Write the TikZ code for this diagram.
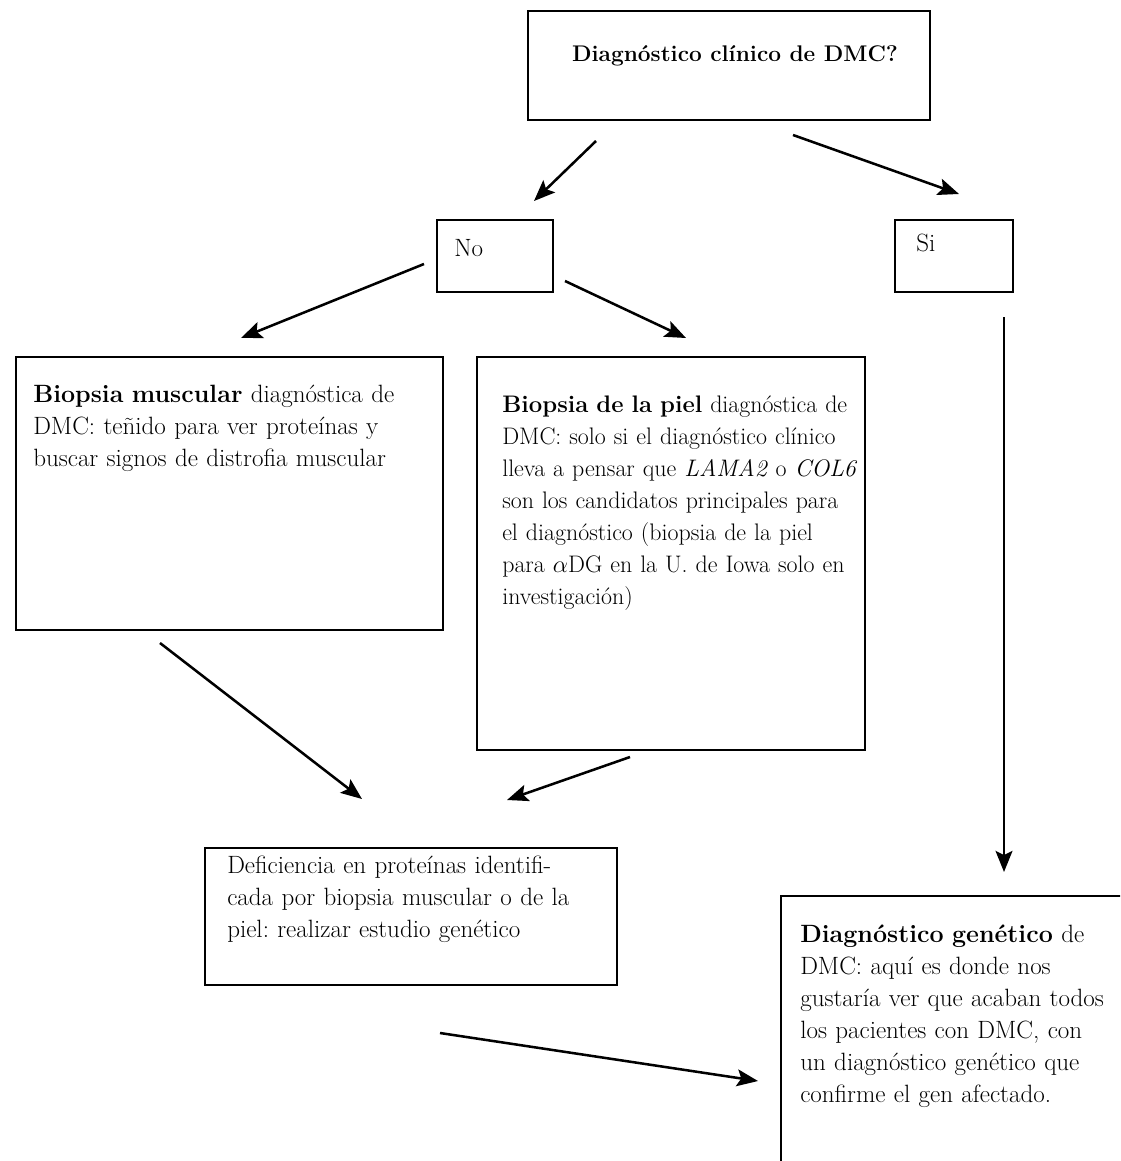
\documentclass[tikz,border=0pt]{standalone}
\usetikzlibrary{arrows.meta,fit}
\frenchspacing
\tikzset{
  box/.style={draw, line width=2.1pt, inner sep=0pt},
  txt/.style={anchor=base west, inner sep=0pt, align=left, text width=11cm,
    font=\fontsize{17.8}{22.76}\selectfont},
  arr/.style={-{Stealth[length=15pt, width=12pt, inset=3pt]}, line width=1.8pt}
}
\begin{document}
\begin{tikzpicture}[x=0.025cm, y=-0.025cm]
\useasboundingbox (0,0) rectangle (1120,1161);
\clip (0,0) rectangle (1120,1161);
% boxes
\node[box, fit={(528,11) (930,120)}] (q) {};
\node[anchor=base, inner sep=0pt, font=\fontsize{16.1}{20}\selectfont\bfseries] (qt) at (735,62) {Diagnóstico clínico de DMC?};
\node[box, fit={(437,220) (553,292)}] (no) {};
\node[txt] (not) at (454,257) {No};
\node[box, fit={(895,220) (1013,292)}] (si) {};
\node[txt] (sit) at (916,252) {Si};
\node[box, fit={(16,357) (443,630)}] (musc) {};
\node[txt] (musct) at (33,402) {\textbf{Biopsia muscular} diagnóstica de\\
  DMC: teñido para ver proteínas y\\
  buscar signos de distrofia muscular};
\node[box, fit={(477,357) (865,750)}] (piel) {};
\node[txt, font=\fontsize{17}{22.76}\selectfont] (pielt) at (502,412) {\textbf{Biopsia de la piel} diagnóstica de\\
  DMC: solo si el diagnóstico clínico\\
  lleva a pensar que \textit{LAMA2} o \textit{COL6}\\
  son los candidatos principales para\\
  el diagnóstico (biopsia de la piel\\
  para $\alpha$DG en la U. de Iowa solo en\\
  investigación)};
\node[box, fit={(205,848) (617,985)}] (def) {};
\node[txt] (deft) at (227,873) {Deficiencia en proteínas identifi-\\
  cada por biopsia muscular o de la\\
  piel: realizar estudio genético};
\node[box, fit={(781,896) (1140,1180)}] (gen) {};
\node[txt] (gent) at (800,942) {\textbf{Diagnóstico genético} de\\
  DMC: aquí es donde nos\\
  gustaría ver que acaban todos\\
  los pacientes con DMC, con\\
  un diagnóstico genético que\\
  confirme el gen afectado.};
% arrow ends
\coordinate (q-a) at (596,141);
\coordinate (no-in) at (534,201);
\coordinate (q-b) at (793,135);
\coordinate (si-in) at (959,194);
\coordinate (no-a) at (424,264);
\coordinate (musc-in) at (241,338);
\coordinate (no-b) at (565,281);
\coordinate (piel-in) at (686,338);
\coordinate (si-out) at (1004,317);
\coordinate (gen-in) at (1004,872);
\coordinate (musc-out) at (160,643);
\coordinate (def-a) at (362,799);
\coordinate (piel-out) at (630,757);
\coordinate (def-b) at (507,800);
\coordinate (def-out) at (440,1033);
\coordinate (gen-l) at (758,1081);
% connectors
\draw[arr] (q-a) -- (no-in);
\draw[arr] (q-b) -- (si-in);
\draw[arr] (no-a) -- (musc-in);
\draw[arr] (no-b) -- (piel-in);
\draw[arr] (si-out) -- (gen-in);
\draw[arr] (musc-out) -- (def-a);
\draw[arr] (piel-out) -- (def-b);
\draw[arr] (def-out) -- (gen-l);
\end{tikzpicture}
\end{document}
